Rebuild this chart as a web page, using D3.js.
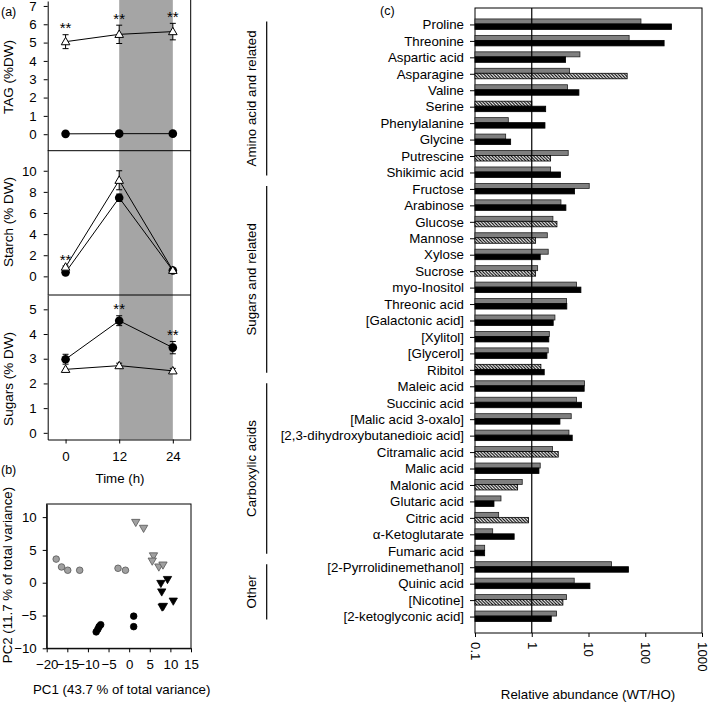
<!DOCTYPE html>
<html><head><meta charset="utf-8">
<script src="https://cdn.jsdelivr.net/npm/d3@7"></script>
<style>
body{margin:0;background:#fff}
svg{display:block}
text{font-family:"Liberation Sans",Arial,sans-serif;fill:#000}
</style>
</head><body><svg id="c" width="709" height="704"></svg>
<script>
// ---------- Panel (a) data ----------
const timePoints = [0, 12, 24];
const tagFilled = [0.02, 0.03, 0.03];
const tagFilledErr = [0.03, 0.03, 0.03];
const tagOpen = [5.05, 5.45, 5.6];
const tagOpenErr = [0.38, 0.5, 0.45];
const tagSig = [1, 1, 1];
const starchFilled = [0.38, 7.44, 0.55];
const starchFilledErr = [0.1, 0.35, 0.05];
const starchOpen = [0.88, 9.1, 0.57];
const starchOpenErr = [0.1, 0.9, 0.1];
const starchSig = [1, 0, 0];
const sugarsFilled = [2.98, 4.54, 3.45];
const sugarsFilledErr = [0.2, 0.2, 0.25];
const sugarsOpen = [2.57, 2.72, 2.51];
const sugarsOpenErr = [0.05, 0.1, 0.1];
const sugarsSig = [0, 1, 1];
const tagTicks = [0, 1, 2, 3, 4, 5, 6, 7];
const starchTicks = [0, 2, 4, 6, 8, 10];
const sugarsTicks = [0, 1, 2, 3, 4, 5];

// ---------- Panel (b) data ----------
const pcaGreyCircleX = [-17.7, -16.4, -14.9, -12.0, -2.7, -0.9];
const pcaGreyCircleY = [3.6, 2.4, 1.9, 1.9, 2.2, 1.9];
const pcaBlackCircleX = [-8.0, -7.6, -7.3, -6.9, 1.1, 1.1];
const pcaBlackCircleY = [-7.5, -7.1, -6.7, -6.4, -5.1, -6.7];
const pcaGreyTriX = [1.6, 3.5, 5.9, 5.6, 7.2, 8.2];
const pcaGreyTriY = [9.2, 8.3, 4.1, 3.3, 2.4, 2.7];
const pcaBlackTriX = [7.7, 9.3, 7.9, 10.7, 8.0, 8.3];
const pcaBlackTriY = [-0.1, 0.5, -1.4, -2.8, -3.7, -3.6];
const pcaXTicks = [-20, -15, -10, -5, 0, 5, 10, 15];
const pcaYTicks = [-10, -5, 0, 5, 10];

// ---------- Panel (c) data ----------
const metabolites = ["Proline","Threonine","Aspartic acid","Asparagine","Valine","Serine","Phenylalanine","Glycine","Putrescine","Shikimic acid","Fructose","Arabinose","Glucose","Mannose","Xylose","Sucrose","myo-Inositol","Threonic acid","[Galactonic acid]","[Xylitol]","[Glycerol]","Ribitol","Maleic acid","Succinic acid","[Malic acid 3-oxalo]","[2,3-dihydroxybutanedioic acid]","Citramalic acid","Malic acid","Malonic acid","Glutaric acid","Citric acid","α-Ketoglutarate","Fumaric acid","[2-Pyrrolidinemethanol]","Quinic acid","[Nicotine]","[2-ketoglyconic acid]"];
const upperValues = [84, 52, 7.06, 4.64, 4.28, 1.0, 0.386, 0.347, 4.39, 2.15, 10.3, 3.27, 2.36, 1.88, 1.95, 1.27, 6.17, 4.11, 2.56, 2.04, 1.95, 1.45, 8.53, 6.17, 4.96, 4.52, 2.33, 1.41, 0.68, 0.287, 0.261, 0.205, 0.148, 25.5, 5.6, 4.11, 2.74];
const lowerValues = [290, 215, 3.95, 48, 6.78, 1.76, 1.71, 0.425, 2.15, 3.22, 5.69, 4.0, 2.78, 1.17, 1.41, 1.17, 7.35, 4.15, 2.39, 2.0, 1.85, 1.66, 8.4, 7.55, 3.14, 5.17, 2.93, 1.34, 0.564, 0.216, 0.88, 0.49, 0.148, 50.7, 10.6, 3.54, 2.21];
const upperHatched = ["Serine","Ribitol"];
const lowerHatched = ["Asparagine","Putrescine","Glucose","Mannose","Sucrose","Citramalic acid","Malonic acid","Citric acid","[Nicotine]"];
const groupNames = ["Amino acid and related","Sugars and related","Carboxylic acids","Other"];
const groupFirst = ["Proline","Fructose","Maleic acid","[2-Pyrrolidinemethanol]"];
const groupLast = ["Shikimic acid","Ribitol","Fumaric acid","[2-ketoglyconic acid]"];
const relTicks = [0.1, 1, 10, 100, 1000];

const svg = d3.select("#c");
const FS = "13.3px";

const defs = svg.append("defs");
const pat = defs.append("pattern").attr("id","hatch").attr("patternUnits","userSpaceOnUse")
  .attr("width",3.2).attr("height",3.2);
pat.append("rect").attr("width",3.2).attr("height",3.2).attr("fill","#fff");
pat.append("path").attr("d","M-1,-1 L4.2,4.2 M-1,2.2 L1,4.2 M2.2,-1 L4.2,1")
  .attr("stroke","#000").attr("stroke-width",1.1);

function styleAxis(g){
  g.selectAll("path,line").attr("stroke","#000").attr("stroke-width",1);
  g.selectAll("text").style("font-size",FS).attr("fill","#000");
}

// ================= Panel (a) =================
const xA = d3.scaleLinear().domain([-4, 28]).range([47.7, 190.7]);
const aTop = 0, aBottom = 439.5;
svg.append("rect").attr("x", xA(12)).attr("y", aTop).attr("width", xA(24)-xA(12))
  .attr("height", aBottom-aTop).attr("fill", "#a5a5a5");

const panelsA = [
  {title:"TAG (%DW)", tY:77, dom:[-0.9,7.27], rng:[150.7,1], ticks:tagTicks,
   f:tagFilled, fe:tagFilledErr, o:tagOpen, oe:tagOpenErr, sig:tagSig},
  {title:"Starch (% DW)", tY:222, dom:[-1.7,11.9], rng:[294.3,150.7], ticks:starchTicks,
   f:starchFilled, fe:starchFilledErr, o:starchOpen, oe:starchOpenErr, sig:starchSig},
  {title:"Sugars (% DW)", tY:379, dom:[-0.27,5.58], rng:[439.5,295], ticks:sugarsTicks,
   f:sugarsFilled, fe:sugarsFilledErr, o:sugarsOpen, oe:sugarsOpenErr, sig:sugarsSig}
];

panelsA.forEach((p) => {
  const y = d3.scaleLinear().domain(p.dom).range(p.rng);
  const gy = svg.append("g").attr("transform",`translate(${xA.range()[0]},0)`)
    .call(d3.axisLeft(y).tickValues(p.ticks).tickFormat(d3.format("d")).tickSize(4).tickPadding(7).tickSizeOuter(0));
  styleAxis(gy);
  if (p.rng[1] > 1) {
    svg.append("line").attr("x1", xA.range()[0]).attr("x2", xA.range()[1])
      .attr("y1", p.rng[1]).attr("y2", p.rng[1]).attr("stroke","#000");
  }
  svg.append("text").attr("transform",`translate(13,${p.tY}) rotate(-90)`)
    .attr("text-anchor","middle").style("font-size","13.5px").text(p.title);

  const line = d3.line().x((d,i)=>xA(timePoints[i])).y(d=>y(d));
  [[p.f,p.fe],[p.o,p.oe]].forEach(([vals,errs]) => {
    svg.append("path").datum(vals).attr("d", line).attr("fill","none").attr("stroke","#000").attr("stroke-width",1);
    vals.forEach((v,i) => {
      const cx = xA(timePoints[i]);
      if (errs[i] > 0.06) {
        const y1 = y(v+errs[i]), y2 = y(v-errs[i]);
        svg.append("line").attr("x1",cx).attr("x2",cx).attr("y1",y1).attr("y2",y2).attr("stroke","#000");
        svg.append("line").attr("x1",cx-3).attr("x2",cx+3).attr("y1",y1).attr("y2",y1).attr("stroke","#000");
        svg.append("line").attr("x1",cx-3).attr("x2",cx+3).attr("y1",y2).attr("y2",y2).attr("stroke","#000");
      }
    });
  });
  p.f.forEach((v,i) => {
    svg.append("circle").attr("cx",xA(timePoints[i])).attr("cy",y(v)).attr("r",4.3).attr("fill","#000");
  });
  p.o.forEach((v,i) => {
    svg.append("path").attr("d", d3.symbol(d3.symbolTriangle, 32)())
      .attr("transform",`translate(${xA(timePoints[i])},${y(v)+0.6})`)
      .attr("fill","#fff").attr("stroke","#000").attr("stroke-width",1);
  });
  p.sig.forEach((s,i) => {
    if (!s) return;
    const top = Math.max(p.f[i]+p.fe[i], p.o[i]+p.oe[i]);
    svg.append("text").attr("x", xA(timePoints[i])).attr("y", y(top)-1.5)
      .attr("text-anchor","middle").style("font-size","15px").style("fill","#000").text("**");
  });
});
svg.append("line").attr("x1",xA.range()[1]).attr("x2",xA.range()[1]).attr("y1",aTop).attr("y2",aBottom).attr("stroke","#000");
const gxA = svg.append("g").attr("transform",`translate(0,${aBottom})`)
  .call(d3.axisBottom(xA).tickValues(timePoints).tickSize(4).tickPadding(8).tickSizeOuter(0));
styleAxis(gxA);
svg.append("text").attr("x",120).attr("y",482.5).attr("text-anchor","middle").style("font-size",FS).text("Time (h)");
svg.append("text").attr("x",1).attr("y",16).style("font-size","12.5px").text("(a)");
svg.append("text").attr("x",1).attr("y",474).style("font-size","12.5px").text("(b)");

// ================= Panel (b) =================
const xB = d3.scaleLinear().domain([-20, 15]).range([46.7, 191]);
const yB = d3.scaleLinear().domain([-10, 12]).range([648.3, 504]);
svg.append("rect").attr("x",46.7).attr("y",504).attr("width",191-46.7).attr("height",648.3-504)
  .attr("fill","none").attr("stroke","#000");
const gxB = svg.append("g").attr("transform",`translate(0,${yB.range()[0]})`)
  .call(d3.axisBottom(xB).tickValues(pcaXTicks).tickSize(4).tickPadding(7).tickSizeOuter(0));
styleAxis(gxB);
const gyB = svg.append("g").attr("transform",`translate(${xB.range()[0]},0)`)
  .call(d3.axisLeft(yB).tickValues(pcaYTicks).tickSize(4).tickPadding(6).tickSizeOuter(0));
styleAxis(gyB);
function pts(xs, ys, shape, fill, stroke){
  xs.forEach((x,i) => {
    if (shape === "circle") {
      svg.append("circle").attr("cx",xB(x)).attr("cy",yB(ys[i])).attr("r",3.3)
        .attr("fill",fill).attr("stroke",stroke).attr("stroke-width",0.8);
    } else {
      svg.append("path").attr("d", d3.symbol(d3.symbolTriangle, 30)())
        .attr("transform",`translate(${xB(x)},${yB(ys[i])-0.6}) rotate(180)`)
        .attr("fill",fill).attr("stroke",stroke).attr("stroke-width",0.8);
    }
  });
}
pts(pcaGreyCircleX, pcaGreyCircleY, "circle", "#a0a0a0", "#555");
pts(pcaBlackCircleX, pcaBlackCircleY, "circle", "#000", "#000");
pts(pcaGreyTriX, pcaGreyTriY, "tri", "#a0a0a0", "#555");
pts(pcaBlackTriX, pcaBlackTriY, "tri", "#000", "#000");
svg.append("text").attr("x",121.7).attr("y",694).attr("text-anchor","middle").style("font-size",FS)
  .text("PC1 (43.7 % of total variance)");
svg.append("text").attr("transform","translate(12,575) rotate(-90)").attr("text-anchor","middle").style("font-size",FS)
  .text("PC2 (11.7 % of total variance)");

// ================= Panel (c) =================
const xC = d3.scaleLog().domain([0.1, 1000]).range([475, 702]);
const yC = d3.scalePoint().domain(metabolites).range([8, 633]).padding(1);
svg.append("rect").attr("x",475).attr("y",8).attr("width",702-475).attr("height",633-8)
  .attr("fill","none").attr("stroke","#000");
const barH = 5;
metabolites.forEach((m,i) => {
  const c = yC(m);
  const uh = upperHatched.includes(m), lh = lowerHatched.includes(m);
  svg.append("rect").attr("x",xC(0.1)).attr("y",c-barH-0.5)
    .attr("width",xC(upperValues[i])-xC(0.1)).attr("height",barH)
    .attr("fill", uh ? "url(#hatch)" : "#7f7f7f").attr("stroke", uh ? "#000" : "#222").attr("stroke-width",0.8);
  svg.append("rect").attr("x",xC(0.1)).attr("y",c-0.5)
    .attr("width",xC(lowerValues[i])-xC(0.1)).attr("height",barH+0.5)
    .attr("fill", lh ? "url(#hatch)" : "#000").attr("stroke","#000").attr("stroke-width",0.8);
});
svg.append("line").attr("x1",xC(1)).attr("x2",xC(1)).attr("y1",8).attr("y2",633).attr("stroke","#000").attr("stroke-width",1.2);
const gyC = svg.append("g").attr("transform",`translate(475,0)`)
  .call(d3.axisLeft(yC).tickSize(5).tickPadding(6).tickSizeOuter(0));
styleAxis(gyC);
gyC.select(".domain").remove();
const gxC = svg.append("g").attr("transform",`translate(0,633)`)
  .call(d3.axisBottom(xC).tickValues(relTicks).tickFormat(d3.format("~g")).tickSize(4).tickSizeOuter(0));
styleAxis(gxC);
gxC.select(".domain").remove();
gxC.selectAll("text").attr("transform","rotate(90)").attr("y",0).attr("x",9).attr("dy","0.35em").style("text-anchor","start");
svg.append("text").attr("x",588).attr("y",699).attr("text-anchor","middle").style("font-size",FS).text("Relative abundance (WT/HO)");
svg.append("text").attr("x",380).attr("y",15).style("font-size","12.5px").text("(c)");

groupNames.forEach((g,i) => {
  const y1 = yC(groupFirst[i]) - 3, y2 = yC(groupLast[i]) + 3;
  svg.append("line").attr("x1",266.7).attr("x2",266.7).attr("y1",y1).attr("y2",y2).attr("stroke","#000").attr("stroke-width",1.2);
  svg.append("text").attr("transform",`translate(256,${(y1+y2)/2}) rotate(-90)`)
    .attr("text-anchor","middle").style("font-size",FS).text(g);
});
</script>
</body></html>
